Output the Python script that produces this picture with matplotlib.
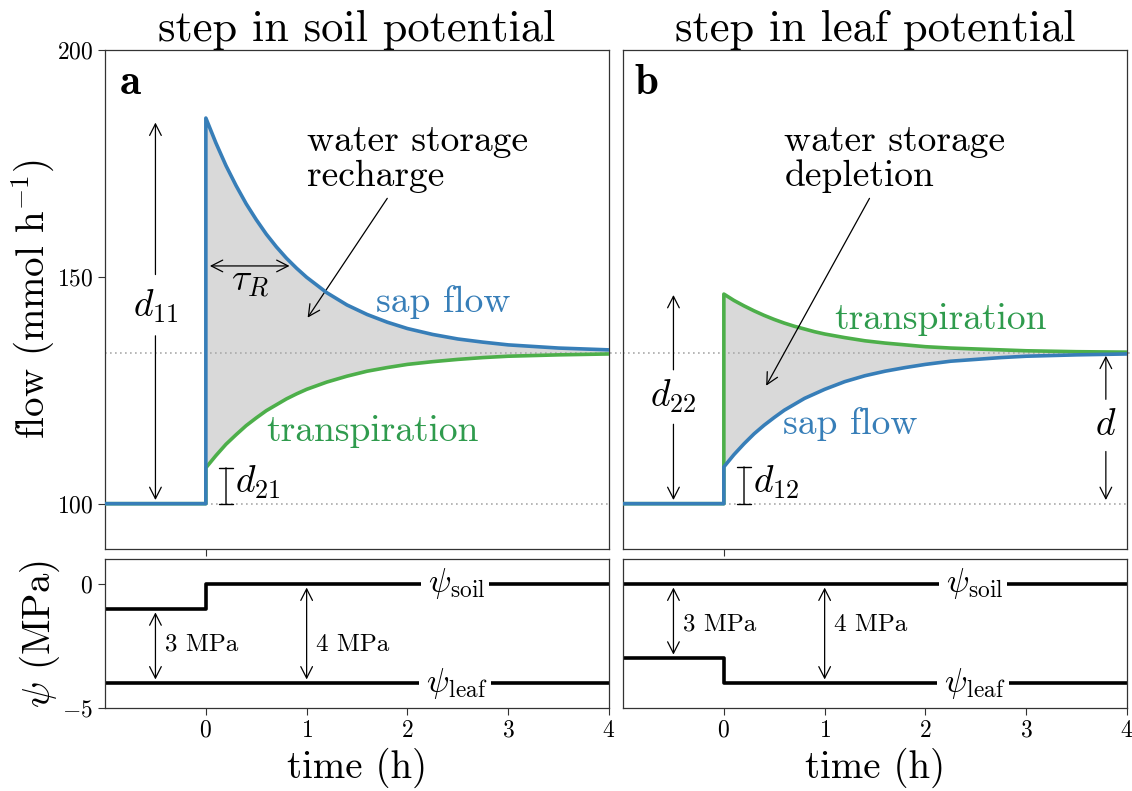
import matplotlib.pyplot as plt

plt.rcParams['font.family'] = 'serif'
plt.rcParams['font.serif'] = ['cmr10']
plt.rcParams['mathtext.fontset'] = 'cm'
plt.rcParams['axes.formatter.use_mathtext'] = True

# flow before the step (mmol/h)
t_pre = [-1.0, 0.0]
flow_pre = [100.0, 100.0]

# flow after the step
t_post = [0.0, 0.1, 0.2, 0.3, 0.4, 0.5, 0.6, 0.7, 0.8, 0.9, 1.0, 1.2, 1.4,
          1.6, 1.8, 2.0, 2.25, 2.5, 2.75, 3.0, 3.5, 4.0]
sap_a = [185.0, 179.5, 174.5, 170.1, 166.1, 162.6, 159.4, 156.6, 154.1, 151.9,
         149.9, 146.5, 143.8, 141.7, 140.0, 138.6, 137.3, 136.3, 135.6, 135.0,
         134.3, 133.9]
trans_a = [107.9, 110.6, 113.1, 115.2, 117.2, 118.9, 120.5, 121.8, 123.1, 124.2,
           125.2, 126.8, 128.1, 129.2, 130.0, 130.7, 131.3, 131.8, 132.2, 132.5,
           132.8, 133.0]
sap_b = [108.1, 110.8, 113.2, 115.4, 117.3, 119.0, 120.6, 121.9, 123.2, 124.2,
         125.2, 126.9, 128.2, 129.2, 130.0, 130.7, 131.4, 131.8, 132.2, 132.5,
         132.8, 133.0]
trans_b = [146.2, 144.8, 143.6, 142.5, 141.5, 140.6, 139.8, 139.1, 138.5, 137.9,
           137.4, 136.6, 135.9, 135.4, 135.0, 134.6, 134.3, 134.1, 133.9, 133.7,
           133.5, 133.4]
flow_base = 100.0
flow_steady = 133.3

# water potentials (MPa)
t_psi = [-1.0, 0.0, 0.0, 4.0]
psi_soil_a = [-1, -1, 0, 0]
psi_leaf_a = [-4, -4, -4, -4]
psi_soil_b = [0, 0, 0, 0]
psi_leaf_b = [-3, -3, -4, -4]

blue = '#377eb8'
green = '#4daf4a'
green_txt = '#2f9b4d'
fill_c = '#d9d9d9'

fig = plt.figure(figsize=(11.32, 7.91), dpi=100)
ax_a = fig.add_axes([0.0928, 0.3059, 0.4452, 0.6309])
ax_b = fig.add_axes([0.5504, 0.3059, 0.4452, 0.6309])
ax_c = fig.add_axes([0.0928, 0.1049, 0.4452, 0.1884])
ax_d = fig.add_axes([0.5504, 0.1049, 0.4452, 0.1884])

arr = dict(arrowstyle='->,head_length=0.55,head_width=0.28', lw=0.9,
           color='k', mutation_scale=15, shrinkA=0, shrinkB=0)
arr2 = dict(arr, arrowstyle='<->,head_length=0.55,head_width=0.28')
bar = dict(arrowstyle='|-|,widthA=0.35,widthB=0.35', lw=1.0, color='k',
           mutation_scale=15, shrinkA=0, shrinkB=0)

for ax in (ax_a, ax_b, ax_c, ax_d):
    ax.set_xlim(-1, 4)
    for s in ax.spines.values():
        s.set_color('#333333')
        s.set_linewidth(0.9)
    ax.tick_params(direction='out', length=5, labelsize=17, color='#333333')

# flow panels
for ax, sap, trans in ((ax_a, sap_a, trans_a), (ax_b, sap_b, trans_b)):
    ax.set_ylim(90, 200)
    ax.set_xticks([0])
    ax.set_xticklabels([])
    ax.fill_between(t_post, trans, sap, color=fill_c, lw=0, zorder=1)
    ax.plot(t_pre + t_post, flow_pre + trans, color=green, lw=2.6, zorder=3)
    ax.plot(t_pre + t_post, flow_pre + sap, color=blue, lw=2.6, zorder=4)
    ax.plot([-1, 4.12], [flow_steady, flow_steady], ls=(0, (1, 2)),
            color='#aaaaaa', lw=1.2, zorder=2, clip_on=False)
    ax.plot([0, 4.0], [flow_base, flow_base], ls=(0, (1, 2)),
            color='#aaaaaa', lw=1.2, zorder=2, clip_on=False)

ax_a.set_yticks([100, 150, 200])
ax_b.set_yticks([])
ax_a.set_ylabel(r'flow (mmol h$^{-1}$)', fontsize=28, labelpad=0)
ax_a.set_title('step in soil potential', fontsize=32, pad=4)
ax_b.set_title('step in leaf potential', fontsize=32, pad=4)

ax_a.text(0.028, 0.97, r'$\mathbf{a}$', transform=ax_a.transAxes, fontsize=31,
          ha='left', va='top')
ax_b.text(0.022, 0.97, r'$\mathbf{b}$', transform=ax_b.transAxes, fontsize=31,
          ha='left', va='top')

# panel a annotations
ax_a.annotate('', xy=(-0.5, 184), xytext=(-0.5, 150.5), arrowprops=arr)
ax_a.annotate('', xy=(-0.5, 100.8), xytext=(-0.5, 137), arrowprops=arr)
ax_a.text(-0.5, 143.5, r'$d_{11}$', fontsize=27, ha='center', va='center')
ax_a.annotate('', xy=(0.04, 152.4), xytext=(0.83, 152.4), arrowprops=arr2)
ax_a.text(0.44, 148.5, r'$\tau_R$', fontsize=27, ha='center', va='center')
ax_a.text(1.0, 176, 'water storage\nrecharge', fontsize=27, ha='left',
          va='center', linespacing=1.05)
ax_a.annotate('', xy=(1.01, 141), xytext=(1.8, 167.3), arrowprops=arr)
ax_a.text(1.69, 144.5, 'sap flow', fontsize=27, color=blue, ha='left',
          va='center')
ax_a.text(0.6, 116, 'transpiration', fontsize=27, color=green_txt, ha='left',
          va='center')
ax_a.annotate('', xy=(0.2, 100), xytext=(0.2, 107.9), arrowprops=bar)
ax_a.text(0.29, 104.8, r'$d_{21}$', fontsize=27, ha='left', va='center')

# panel b annotations
ax_b.annotate('', xy=(-0.5, 146), xytext=(-0.5, 129.5), arrowprops=arr)
ax_b.annotate('', xy=(-0.5, 100.8), xytext=(-0.5, 117.5), arrowprops=arr)
ax_b.text(-0.5, 123.7, r'$d_{22}$', fontsize=27, ha='center', va='center')
ax_b.text(0.6, 176, 'water storage\ndepletion', fontsize=27, ha='left',
          va='center', linespacing=1.05)
ax_b.annotate('', xy=(0.42, 126), xytext=(1.445, 167.3), arrowprops=arr)
ax_b.text(1.1, 140.7, 'transpiration', fontsize=27, color=green_txt, ha='left',
          va='center')
ax_b.text(0.59, 117.5, 'sap flow', fontsize=27, color=blue, ha='left',
          va='center')
ax_b.annotate('', xy=(0.2, 100), xytext=(0.2, 108.1), arrowprops=bar)
ax_b.text(0.29, 104.8, r'$d_{12}$', fontsize=27, ha='left', va='center')
ax_b.annotate('', xy=(3.79, 132.6), xytext=(3.79, 123), arrowprops=arr)
ax_b.annotate('', xy=(3.79, 100.8), xytext=(3.79, 111.5), arrowprops=arr)
ax_b.text(3.79, 117.3, r'$d$', fontsize=27, ha='center', va='center')

# water potential panels
lab_box = dict(boxstyle='square,pad=0.1', fc='white', ec='none')
for ax, soil, leaf in ((ax_c, psi_soil_a, psi_leaf_a), (ax_d, psi_soil_b, psi_leaf_b)):
    ax.set_ylim(-5, 1)
    ax.set_xticks([0, 1, 2, 3, 4])
    ax.plot(t_psi, soil, color='k', lw=2.6, zorder=2)
    ax.plot(t_psi, leaf, color='k', lw=2.6, zorder=2)
    ax.text(2.47, 0, r'$\,\psi_{\rm soil}\,$', fontsize=24, ha='center',
            va='center', bbox=lab_box, zorder=3)
    ax.text(2.47, -4, r'$\,\psi_{\rm leaf}\,$', fontsize=24, ha='center',
            va='center', bbox=lab_box, zorder=3)
    ax.set_xlabel('time (h)', fontsize=28, labelpad=4)

ax_c.set_yticks([0, -5])
ax_d.set_yticks([])
ax_c.set_ylabel(r'$\psi$ (MPa)', fontsize=28, labelpad=0)

ax_c.annotate('', xy=(-0.5, -1.15), xytext=(-0.5, -3.85), arrowprops=arr2)
ax_c.text(-0.41, -2.45, '3 MPa', fontsize=18, ha='left', va='center')
ax_c.annotate('', xy=(1.0, -0.15), xytext=(1.0, -3.85), arrowprops=arr2)
ax_c.text(1.09, -2.45, '4 MPa', fontsize=18, ha='left', va='center')

ax_d.annotate('', xy=(-0.5, -0.15), xytext=(-0.5, -2.85), arrowprops=arr2)
ax_d.text(-0.41, -1.65, '3 MPa', fontsize=18, ha='left', va='center')
ax_d.annotate('', xy=(1.0, -0.15), xytext=(1.0, -3.85), arrowprops=arr2)
ax_d.text(1.09, -1.65, '4 MPa', fontsize=18, ha='left', va='center')

fig.align_ylabels([ax_a, ax_c])
fig.savefig('out.png', dpi=100)
